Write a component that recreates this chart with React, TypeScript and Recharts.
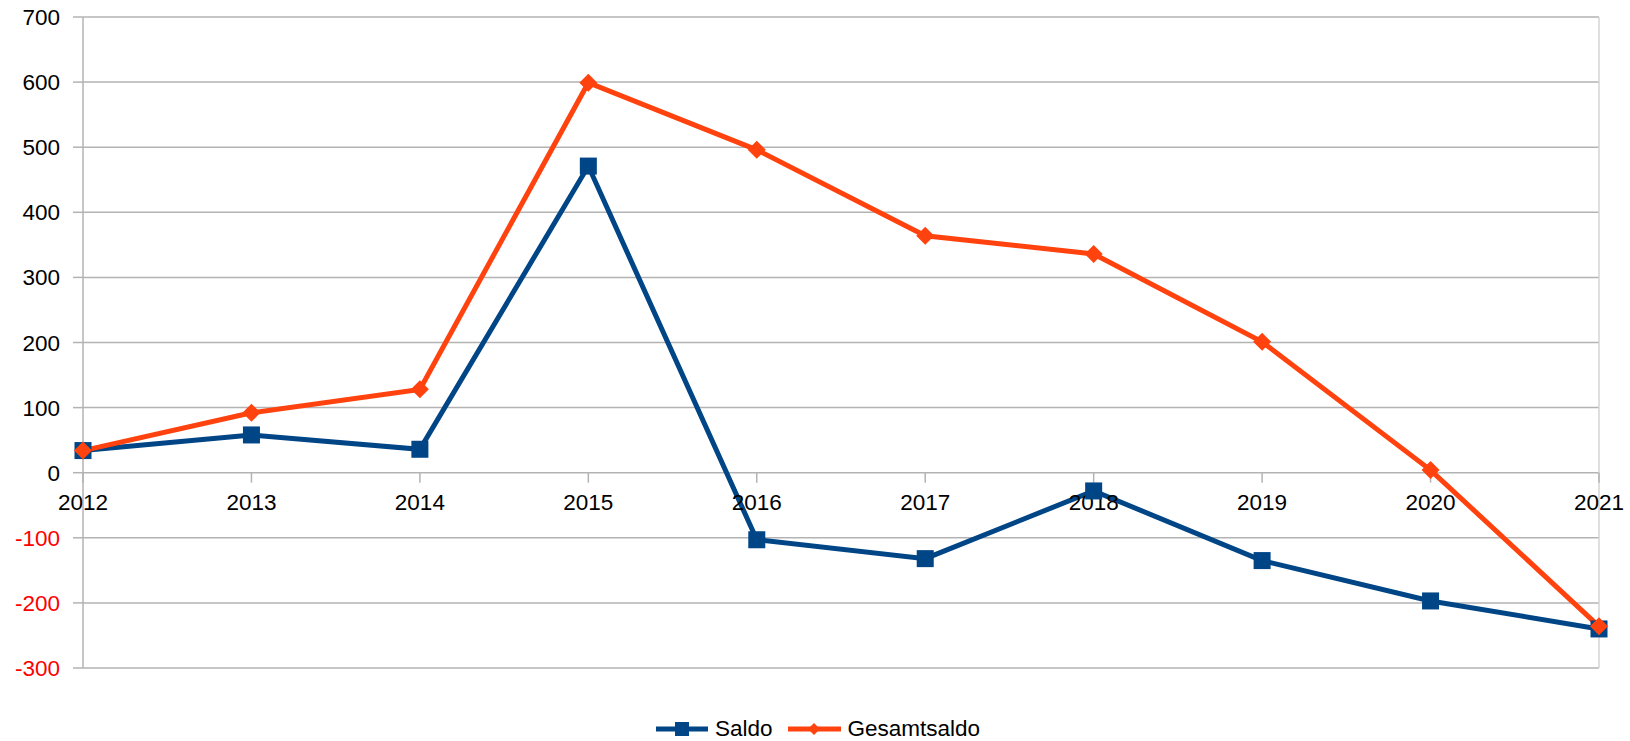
import React from 'react';
import {
  LineChart,
  Line,
  XAxis,
  YAxis,
  CartesianGrid,
  ReferenceDot,
  ReferenceLine,
  Legend,
} from 'recharts';

const years = ['2012', '2013', '2014', '2015', '2016', '2017', '2018', '2019', '2020', '2021'];
const saldo = [34, 58, 36, 471, -103, -132, -28, -135, -197, -240];
const gesamtsaldo = [34, 92, 128, 599, 496, 364, 336, 201, 4, -236];
const yTicks = [-300, -200, -100, 0, 100, 200, 300, 400, 500, 600, 700];

const data = years.map((y, i) => ({ year: y, Saldo: saldo[i], Gesamtsaldo: gesamtsaldo[i] }));

const BLUE = '#004586';
const ORANGE = '#ff420e';
const GRID = '#b3b3b3';
const FONT = '"Liberation Sans", Arial, sans-serif';

const SquareDot = (props: any) => {
  const { cx, cy, index } = props;
  if (cx == null || cy == null) return <g key={`s-${index}`} />;
  return <rect key={`s-${index}`} x={cx - 8.5} y={cy - 8.5} width={17} height={17} fill={BLUE} />;
};

const DiamondDot = (props: any) => {
  const { cx, cy, index } = props;
  if (cx == null || cy == null) return <g key={`d-${index}`} />;
  const r = 9;
  return (
    <polygon
      key={`d-${index}`}
      points={`${cx},${cy - r} ${cx + r},${cy} ${cx},${cy + r} ${cx - r},${cy}`}
      fill={ORANGE}
    />
  );
};

const YTick = (props: any) => {
  const { x, y, payload } = props;
  const v = payload.value;
  return (
    <text
      x={x}
      y={y}
      dy={8}
      textAnchor="end"
      fontFamily={FONT}
      fontSize={22.5}
      fill={v < 0 ? '#ff0000' : '#000000'}
    >
      {v}
    </text>
  );
};

const LegendContent = () => (
  <div
    style={{
      display: 'flex',
      justifyContent: 'flex-start',
      alignItems: 'center',
      fontFamily: FONT,
      fontSize: 22.5,
      color: '#000',
      width: 1630,
      paddingLeft: 654,
      boxSizing: 'border-box',
    }}
  >
    <svg width={58} height={20} style={{ marginRight: 3 }}>
      <line x1={2} y1={10} x2={54} y2={10} stroke={BLUE} strokeWidth={5} />
      <rect x={21} y={3} width={14} height={14} fill={BLUE} />
    </svg>
    <span style={{ marginRight: 13 }}>Saldo</span>
    <svg width={58} height={20} style={{ marginRight: 4 }}>
      <line x1={2} y1={10} x2={55} y2={10} stroke={ORANGE} strokeWidth={5} />
      <polygon points="28,4 34,10 28,16 22,10" fill={ORANGE} />
    </svg>
    <span>Gesamtsaldo</span>
  </div>
);

export default function App() {
  return (
    <div style={{ position: 'absolute', left: 0, top: 0, width: 1630, height: 741, background: '#fff' }}>
      <LineChart
        width={1630}
        height={741}
        data={data}
        margin={{ top: 17, right: 31, bottom: 73, left: 0 }}
      >
        <CartesianGrid horizontal vertical={false} stroke={GRID} strokeWidth={1.5} />
        <XAxis dataKey="year" hide />
        <YAxis
          width={83}
          domain={[-300, 700]}
          ticks={yTicks}
          interval={0}
          axisLine={{ stroke: GRID, strokeWidth: 1.5 }}
          tickLine={{ stroke: GRID, strokeWidth: 1.5 }}
          tickSize={10}
          tickMargin={13}
          tick={<YTick />}
        />
        <ReferenceLine x="2021" stroke="#d4d4d4" strokeWidth={1.5} />
        {years.map((yr) => (
          <ReferenceDot
            key={`lbl-${yr}`}
            x={yr}
            y={0}
            r={0}
            shape={(p: any) => (
              <g>
                <line x1={p.cx} y1={p.cy} x2={p.cx} y2={p.cy + 10} stroke={GRID} strokeWidth={1.5} />
                <text
                  x={p.cx}
                  y={p.cy + 37}
                  textAnchor="middle"
                  fontFamily={FONT}
                  fontSize={22.5}
                  fill="#000"
                >
                  {yr}
                </text>
              </g>
            )}
          />
        ))}
        <Line
          type="linear"
          dataKey="Saldo"
          stroke={BLUE}
          strokeWidth={5}
          dot={SquareDot}
          activeDot={false}
          isAnimationActive={false}
        />
        <Line
          type="linear"
          dataKey="Gesamtsaldo"
          stroke={ORANGE}
          strokeWidth={5}
          dot={DiamondDot}
          activeDot={false}
          isAnimationActive={false}
        />
        <Legend
          layout="horizontal"
          verticalAlign="middle"
          align="center"
          content={<LegendContent />}
          wrapperStyle={{ position: 'absolute', top: 716, left: 0, width: 1630 }}
        />
      </LineChart>
    </div>
  );
}
